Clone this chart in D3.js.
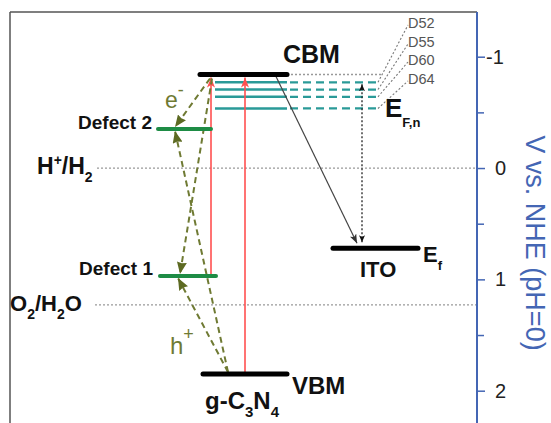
<!DOCTYPE html>
<html><head><meta charset="utf-8">
<script src="https://cdn.jsdelivr.net/npm/d3@7"></script>
<style>
body{margin:0;background:#fff;}
svg text{font-family:"Liberation Sans",Arial,Helvetica,sans-serif;}
</style></head><body>
<svg id="c" width="551" height="423"></svg>
<script>
// ---------------- data ----------------
const levelNames = ["CBM", "VBM", "Defect 2", "Defect 1", "ITO"];
const levelValues = [-0.84, 1.85, -0.35, 0.97, 0.72];           // V vs NHE
const redoxLabels = ["H+/H2", "O2/H2O"];
const redoxValues = [0, 1.23];
const dyeNames = ["D52", "D55", "D60", "D64"];
const dyeFermiValues = [-0.77, -0.705, -0.64, -0.535];           // E_F,n of ITO with dyes
const majorTicks = [-1, 0, 1, 2];
const minorTicks = [-0.5, 0.5, 1.5];
const axisTitle = "V vs. NHE (pH=0)";

// ---------------- layout / style ----------------
const W = 551, H = 423;
const svg = d3.select("#c");
const y = d3.scaleLinear().domain([-1, 2]).range([56.7, 390.7]);
const x = d3.scaleLinear().domain([0, W]).range([0, W]);
const axisX = 477, frameL = 10, frameT = 12;
const E = {}; levelNames.forEach((n, i) => E[n] = levelValues[i]);

const levelStyle = {
  "CBM":      {x1: 200, x2: 287, color: "#000", w: 5},
  "VBM":      {x1: 203, x2: 287, color: "#000", w: 5},
  "Defect 2": {x1: 158, x2: 211, color: "#1e8c45", w: 4},
  "Defect 1": {x1: 160, x2: 216, color: "#1e8c45", w: 4},
  "ITO":      {x1: 333, x2: 418, color: "#000", w: 5}
};
const olive = "#6f7a33", oliveDark = "#5d6a22", red = "#ff5050", teal = "#2a9a98", blue = "#4466b4";

// markers
const defs = svg.append("defs");
function marker(id, color, len, wid, notch) {
  defs.append("marker").attr("id", id).attr("markerUnits", "userSpaceOnUse")
    .attr("viewBox", `0 0 ${len} ${wid}`).attr("refX", len).attr("refY", wid / 2)
    .attr("markerWidth", len).attr("markerHeight", wid).attr("orient", "auto")
    .append("path").attr("d", `M0,0 L${len},${wid / 2} L0,${wid} L${len * notch},${wid / 2} Z`).attr("fill", color);
}
marker("olv", oliveDark, 12, 10, 0.1);
marker("red", red, 10, 8, 0.25);
marker("blk", "#333", 9, 7, 0.25);
marker("blk2", "#111", 7, 6, 0.25);
defs.append("marker").attr("id", "blk2s").attr("markerUnits", "userSpaceOnUse")
  .attr("viewBox", "0 0 7 6").attr("refX", 0).attr("refY", 3).attr("markerWidth", 7).attr("markerHeight", 6)
  .attr("orient", "auto").append("path").attr("d", "M7,0 L0,3 L7,6 L5.2,3 Z").attr("fill", "#111");

// frame
svg.append("line").attr("x1", frameL).attr("x2", frameL).attr("y1", frameT).attr("y2", H).attr("stroke", "#555").attr("stroke-width", 1.5);
svg.append("line").attr("x1", frameL).attr("x2", axisX).attr("y1", frameT).attr("y2", frameT).attr("stroke", "#555").attr("stroke-width", 1.5);

// redox dotted lines
const redoxStart = [97, 95];
redoxValues.forEach((v, i) => {
  svg.append("line").attr("x1", x(redoxStart[i])).attr("x2", x(axisX)).attr("y1", y(v)).attr("y2", y(v))
    .attr("stroke", "#999").attr("stroke-width", 1.3).attr("stroke-dasharray", "2,2");
});

// CBM dotted extension
svg.append("line").attr("x1", x(287)).attr("x2", x(383)).attr("y1", y(E.CBM)).attr("y2", y(E.CBM))
  .attr("stroke", "#999").attr("stroke-width", 1.3).attr("stroke-dasharray", "2,2");

// teal dye Fermi levels
const labelY = [28, 47, 65, 84];
dyeFermiValues.forEach((v, i) => {
  svg.append("line").attr("x1", x(215)).attr("x2", x(287)).attr("y1", y(v)).attr("y2", y(v))
    .attr("stroke", teal).attr("stroke-width", 2.5);
  svg.append("line").attr("x1", x(290)).attr("x2", x(377)).attr("y1", y(v)).attr("y2", y(v))
    .attr("stroke", teal).attr("stroke-width", 2.3).attr("stroke-dasharray", "8,5");
  svg.append("line").attr("x1", x(378)).attr("x2", x(408)).attr("y1", y(v)).attr("y2", labelY[i] - 3)
    .attr("stroke", "#777").attr("stroke-width", 1.1).attr("stroke-dasharray", "2,2");
  svg.append("text").attr("x", x(408)).attr("y", labelY[i]).text(dyeNames[i])
    .attr("font-size", 14.5).attr("fill", "#555");
});

// red excitation arrows
svg.append("line").attr("x1", x(211)).attr("x2", x(211)).attr("y1", y(E["Defect 1"]) - 2).attr("y2", y(E.CBM) + 3)
  .attr("stroke", red).attr("stroke-width", 1.6).attr("marker-end", "url(#red)");
svg.append("line").attr("x1", x(245)).attr("x2", x(245)).attr("y1", y(E.VBM) - 2).attr("y2", y(E.CBM) + 3)
  .attr("stroke", red).attr("stroke-width", 1.6).attr("marker-end", "url(#red)");

// olive trapping arrows
const trap = [
  [210, y(E.CBM) + 4, 175, y(E["Defect 2"]) - 2],
  [212, y(E.CBM) + 4, 180, y(E["Defect 1"]) - 2],
  [228, y(E.VBM) - 2, 175, y(E["Defect 2"]) + 2],
  [228, y(E.VBM) - 2, 178, y(E["Defect 1"]) + 2]
];
trap.forEach(t => {
  svg.append("line").attr("x1", x(t[0])).attr("y1", t[1]).attr("x2", x(t[2])).attr("y2", t[3])
    .attr("stroke", olive).attr("stroke-width", 2).attr("stroke-dasharray", "6,4").attr("marker-end", "url(#olv)");
});

// CBM -> ITO transfer arrow
svg.append("line").attr("x1", x(276)).attr("y1", y(E.CBM) + 2).attr("x2", x(357)).attr("y2", y(E.ITO) - 5)
  .attr("stroke", "#444").attr("stroke-width", 1.2).attr("marker-end", "url(#blk)");
// dotted double arrow ITO <-> E_F,n
svg.append("line").attr("x1", x(362)).attr("x2", x(362)).attr("y1", y(E.ITO) - 6).attr("y2", y(dyeFermiValues[0]) + 2)
  .attr("stroke", "#222").attr("stroke-width", 1.3).attr("stroke-dasharray", "2,2")
  .attr("marker-end", "url(#blk2)").attr("marker-start", "url(#blk2s)");

// energy levels
levelNames.forEach(n => {
  const s = levelStyle[n];
  svg.append("line").attr("x1", x(s.x1)).attr("x2", x(s.x2)).attr("y1", y(E[n])).attr("y2", y(E[n]))
    .attr("stroke", s.color).attr("stroke-width", s.w).attr("stroke-linecap", "round");
});

// ---------------- texts ----------------
function rich(xp, yp, parts, opts) {
  const t = svg.append("text").attr("x", xp).attr("y", yp)
    .attr("font-size", opts.size).attr("font-weight", opts.weight || "bold").attr("fill", opts.fill || "#111")
    .attr("text-anchor", opts.anchor || "start");
  let cur = 0;
  parts.forEach(p => {
    const off = p.off || 0;
    t.append("tspan").text(p.t).attr("dy", off - cur).attr("font-size", p.size || opts.size);
    cur = off;
  });
  return t;
}
rich(x(283), y(E.CBM) - 12, [{t: "CBM"}], {size: 25});
rich(x(292), y(E.VBM) + 20, [{t: "VBM"}], {size: 24});
rich(x(205), y(E.VBM) + 35, [{t: "g-C"}, {t: "3", size: 15, off: 8}, {t: "N"}, {t: "4", size: 15, off: 8}], {size: 24});
rich(x(360), y(E.ITO) + 29, [{t: "ITO"}], {size: 22});
rich(x(423), y(E.ITO) + 14, [{t: "E"}, {t: "f", size: 13, off: 8}], {size: 22});
rich(x(385), y(dyeFermiValues[3]) + 9, [{t: "E"}, {t: "F,n", size: 13, off: 10}], {size: 26});
rich(x(152), y(E["Defect 2"]), [{t: "Defect 2"}], {size: 19, anchor: "end"});
rich(x(153), y(E["Defect 1"]) - 1, [{t: "Defect 1"}], {size: 19, anchor: "end"});
rich(x(37), y(redoxValues[0]) + 6, [{t: "H"}, {t: "+", size: 14, off: -9}, {t: "/H"}, {t: "2", size: 14, off: 8}], {size: 23});
rich(x(10), y(redoxValues[1]) + 6, [{t: "O"}, {t: "2", size: 14, off: 8}, {t: "/H"}, {t: "2", size: 14, off: 8}, {t: "O"}], {size: 22});
rich(x(165), y(E.CBM) + 33, [{t: "e"}, {t: "-", size: 18, off: -12}], {size: 23, weight: "normal", fill: olive});
rich(x(170), y(E.VBM) - 20, [{t: "h"}, {t: "+", size: 18, off: -14}], {size: 24, weight: "normal", fill: olive});

// ---------------- right axis ----------------
svg.append("line").attr("x1", axisX).attr("x2", axisX).attr("y1", frameT).attr("y2", H)
  .attr("stroke", blue).attr("stroke-width", 2);
const gMin = svg.append("g").attr("transform", `translate(${axisX},0)`)
  .call(d3.axisRight(y).tickValues(minorTicks).tickSize(7).tickFormat(""));
gMin.select(".domain").remove();
gMin.selectAll("line").attr("stroke", blue).attr("stroke-width", 1.5);
const gMaj = svg.append("g").attr("transform", `translate(${axisX},0)`)
  .call(d3.axisRight(y).tickValues(majorTicks).tickSize(8).tickFormat(d => String(d)));
gMaj.select(".domain").remove();
gMaj.selectAll("line").attr("stroke", blue).attr("stroke-width", 1.5);
gMaj.selectAll("text").attr("x", 18).attr("dx", d => d < 0 ? -9 : 0)
  .attr("font-size", 20).attr("fill", "#222").attr("font-family", "Liberation Sans, Arial, sans-serif");

svg.append("text").attr("transform", `translate(526,243) rotate(90)`).attr("text-anchor", "middle")
  .attr("font-size", 27).attr("fill", blue).text(axisTitle);
</script>
</body></html>
